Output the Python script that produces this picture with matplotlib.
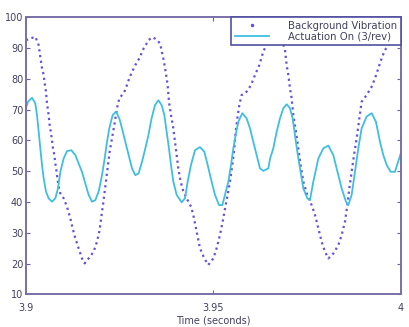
import matplotlib
matplotlib.use("Agg")
import matplotlib.pyplot as plt
from matplotlib.lines import Line2D

# Background vibration (dotted)
bg_t = [3.90000, 3.90248, 3.90338, 3.90382, 3.90427, 3.90471, 3.90498, 3.90533, 3.90560, 3.90604,
        3.90631, 3.90667, 3.90693, 3.90720, 3.90756, 3.90782, 3.90809, 3.90836, 3.90871, 3.90916,
        3.91004, 3.91093, 3.91182, 3.91244, 3.91316, 3.91404, 3.91493, 3.91564, 3.91671, 3.91804,
        3.91893, 3.91964, 3.92009, 3.92053, 3.92098, 3.92142, 3.92187, 3.92231, 3.92293, 3.92356,
        3.92427, 3.92489, 3.92560, 3.92649, 3.92720, 3.92809, 3.92916, 3.93022, 3.93138, 3.93271,
        3.93360, 3.93440, 3.93573, 3.93662, 3.93724, 3.93778, 3.93813, 3.93867, 3.93929, 3.93973,
        3.94018, 3.94062, 3.94124, 3.94196, 3.94284, 3.94400, 3.94462, 3.94551, 3.94640, 3.94756,
        3.94862, 3.94996, 3.95084, 3.95173, 3.95244, 3.95307, 3.95378, 3.95440, 3.95502, 3.95556,
        3.95591, 3.95636, 3.95689, 3.95751, 3.95884, 3.96000, 3.96107, 3.96222, 3.96329, 3.96453,
        3.96587, 3.96720, 3.96827, 3.96907, 3.96951, 3.96996, 3.97040, 3.97084, 3.97129, 3.97200,
        3.97262, 3.97324, 3.97396, 3.97502, 3.97618, 3.97707, 3.97796, 3.97884, 3.97973, 3.98062,
        3.98196, 3.98329, 3.98418, 3.98507, 3.98569, 3.98622, 3.98684, 3.98747, 3.98818, 3.98889,
        3.98951, 3.99084, 3.99218, 3.99307, 3.99396, 3.99484, 3.99573, 3.99707, 3.99840, 4.00000]
bg_v = [92.5, 93.6, 90.9, 87.0, 83.4, 81.2, 78.5, 75.8, 72.0, 68.2,
        65.0, 62.3, 60.1, 57.4, 55.2, 52.5, 50.4, 47.7, 45.0, 42.8,
        41.2, 38.5, 34.7, 31.5, 28.2, 25.0, 21.7, 20.1, 21.7, 23.9,
        27.1, 30.9, 35.2, 39.0, 43.4, 47.7, 52.0, 56.3, 60.6, 65.0,
        70.4, 73.6, 74.7, 76.3, 79.0, 81.7, 84.4, 86.6, 89.8, 92.5,
        93.4, 93.0, 91.5, 86.6, 82.3, 77.9, 72.5, 68.2, 63.9, 59.6,
        55.2, 50.9, 46.6, 43.4, 41.2, 38.5, 35.8, 30.4, 25.0, 21.7,
        19.6, 21.7, 25.0, 29.3, 33.6, 37.9, 42.3, 46.6, 52.0, 57.4,
        62.8, 67.1, 71.5, 74.7, 75.8, 77.9, 81.2, 84.4, 88.8, 92.0,
        94.0, 94.5, 92.5, 89.3, 84.4, 81.2, 76.9, 73.6, 68.2, 62.8,
        57.4, 52.0, 46.6, 42.3, 39.0, 35.8, 31.5, 27.1, 23.9, 21.7,
        23.3, 26.0, 29.3, 33.6, 39.0, 44.4, 49.8, 55.2, 60.6, 67.1,
        72.5, 74.7, 77.4, 80.1, 83.4, 86.6, 89.3, 91.5, 93.0, 93.5]

# Actuation on (3/rev) (solid)
act_t = [3.90000, 3.90053, 3.90160, 3.90248, 3.90293, 3.90338, 3.90382, 3.90427, 3.90471, 3.90533,
         3.90604, 3.90693, 3.90782, 3.90853, 3.90916, 3.91004, 3.91093, 3.91209, 3.91316, 3.91404,
         3.91493, 3.91582, 3.91671, 3.91760, 3.91849, 3.91938, 3.92027, 3.92098, 3.92160, 3.92222,
         3.92311, 3.92400, 3.92489, 3.92560, 3.92649, 3.92738, 3.92827, 3.92916, 3.93004, 3.93093,
         3.93182, 3.93262, 3.93347, 3.93440, 3.93529, 3.93618, 3.93689, 3.93751, 3.93813, 3.93867,
         3.93929, 3.94018, 3.94151, 3.94240, 3.94311, 3.94400, 3.94507, 3.94640, 3.94756, 3.94844,
         3.94951, 3.95040, 3.95147, 3.95236, 3.95307, 3.95396, 3.95467, 3.95529, 3.95591, 3.95662,
         3.95769, 3.95884, 3.95973, 3.96062, 3.96151, 3.96240, 3.96329, 3.96462, 3.96507, 3.96595,
         3.96685, 3.96773, 3.96862, 3.96951, 3.97040, 3.97111, 3.97173, 3.97236, 3.97307, 3.97396,
         3.97502, 3.97573, 3.97662, 3.97796, 3.97929, 3.98062, 3.98196, 3.98284, 3.98418, 3.98533,
         3.98596, 3.98684, 3.98773, 3.98862, 3.98951, 3.99084, 3.99218, 3.99333, 3.99440, 3.99529,
         3.99618, 3.99724, 3.99840, 4.00000]
act_v = [70.5, 72.5, 73.8, 72.0, 68.2, 62.8, 57.4, 52.0, 47.7, 43.4,
         41.2, 40.1, 41.2, 44.4, 49.8, 54.1, 56.5, 56.8, 55.2, 52.5,
         49.8, 46.0, 42.3, 40.1, 40.6, 43.4, 48.7, 54.1, 59.5, 63.9,
         68.2, 69.3, 67.1, 63.9, 59.5, 55.2, 50.9, 48.7, 49.3, 53.0,
         57.4, 61.5, 67.0, 71.4, 73.0, 71.4, 68.2, 62.8, 57.4, 52.0,
         46.6, 42.3, 39.9, 41.2, 46.6, 52.0, 56.8, 57.8, 56.3, 52.0,
         46.6, 42.3, 39.0, 39.0, 42.3, 46.6, 52.0, 57.4, 61.7, 66.0,
         68.8, 67.1, 63.9, 59.5, 55.2, 50.9, 50.1, 50.9, 54.0, 57.4,
         62.8, 67.1, 70.4, 71.7, 70.4, 67.1, 61.7, 56.3, 50.9, 44.4,
         41.2, 40.6, 46.6, 54.1, 57.4, 58.3, 55.2, 50.9, 44.4, 40.1,
         39.0, 42.3, 49.8, 57.4, 63.9, 67.7, 68.8, 66.0, 59.5, 55.2,
         52.0, 49.8, 49.8, 56.0]

x_ticks = [3.9, 3.95, 4.0]
x_tick_labels = ["3.9", "3.95", "4"]
y_ticks = [10, 20, 30, 40, 50, 60, 70, 80, 90, 100]
labels = ["Background Vibration", "Actuation On (3/rev)"]

txt = "#404060"
bg_col = "#6a4fd8"
act_col = "#3fbfdf"
plt.rcParams['font.family'] = ['DejaVu Sans']

fig = plt.figure(figsize=(4.10, 3.27), dpi=100)
ax = fig.add_axes([0.0634, 0.0994, 0.9146, 0.8486])

ax.plot(bg_t, bg_v, color=bg_col, lw=1.6, linestyle=(0, (1, 1.6)))
ax.plot(act_t, act_v, color=act_col, lw=1.3)

ax.set_xlim(3.9, 4.0)
ax.set_ylim(10, 100)
ax.set_xticks(x_ticks)
ax.set_xticklabels(x_tick_labels)
ax.set_yticks(y_ticks)
ax.tick_params(direction="in", top=True, right=True, length=3, width=0.8,
               colors="#7060a0", labelcolor=txt, labelsize=7, pad=2)
ax.tick_params(axis="x", pad=6)
for s in ax.spines.values():
    s.set_color("#7a70a8")
    s.set_linewidth(1.4)
ax.set_xlabel("Time (seconds)", fontsize=7, color=txt, labelpad=2)

handles = [Line2D([], [], color=bg_col, linestyle="none", marker=".", markersize=3),
           Line2D([], [], color=act_col, lw=1.3)]
leg = ax.legend(handles, labels, loc="upper right", bbox_to_anchor=(1.0, 1.0),
                fontsize=7.3, fancybox=False, framealpha=1, edgecolor="#5050a0",
                handlelength=3.4, borderaxespad=0, borderpad=0.35,
                labelspacing=0.05, handletextpad=1.9)
leg.get_frame().set_linewidth(1.2)
for t in leg.get_texts():
    t.set_color(txt)

fig.savefig("out.png", dpi=100)
